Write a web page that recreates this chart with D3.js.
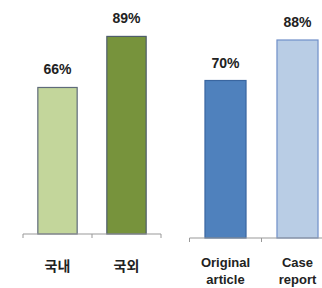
<!DOCTYPE html>
<html>
<head>
<meta charset="utf-8">
<script src="https://cdn.jsdelivr.net/npm/d3@7"></script>
<style>
  body { margin: 0; background: #fff; }
  text { font-family: "Liberation Sans", "Noto Sans CJK KR", sans-serif; font-weight: bold; fill: #222; }
</style>
</head>
<body>
<svg id="chart" width="322" height="288"></svg>
<script>
// left panel: domestic vs. foreign
const leftCats = ["국내", "국외"];
const leftVals = [66, 89];
const leftColors = ["#c3d69b", "#77933c"];
const leftStrokes = ["#5f6b7a", "#4f5d6b"];

// right panel: article type
const rightCats = [["Original", "article"], ["Case", "report"]];
const rightVals = [70, 88];
const rightColors = ["#4f81bd", "#b9cde5"];
const rightStrokes = ["#3a66a0", "#6f8fc8"];

const svg = d3.select("#chart");

function panel(cats, vals, colors, strokes, xRange, yRange) {
    const keys = cats.map((c, i) => i);
    const x = d3.scaleBand().domain(keys).range(xRange).paddingInner(0.43).paddingOuter(0.215);
    const y = d3.scaleLinear().domain([0, 100]).range(yRange);
    const g = svg.append("g");

    g.selectAll("rect")
        .data(vals)
        .join("rect")
        .attr("x", (d, i) => x(i))
        .attr("width", x.bandwidth())
        .attr("y", d => y(d))
        .attr("height", d => y(0) - y(d))
        .attr("fill", (d, i) => colors[i])
        .attr("stroke", (d, i) => strokes[i])
        .attr("stroke-width", 1.2);

    // axis line with tick marks at category boundaries
    g.append("line")
        .attr("x1", xRange[0]).attr("x2", xRange[1])
        .attr("y1", y(0)).attr("y2", y(0))
        .attr("stroke", "#999").attr("stroke-width", 1);
    const bounds = [xRange[0], ...keys.slice(1).map(i => x(i) - x.step() * x.paddingInner() / 2), xRange[1]];
    g.selectAll(".tick")
        .data(bounds)
        .join("line")
        .attr("x1", d => d).attr("x2", d => d)
        .attr("y1", y(0)).attr("y2", y(0) + 4)
        .attr("stroke", "#999");

    // value labels
    g.selectAll(".val")
        .data(vals)
        .join("text")
        .attr("x", (d, i) => x(i) + x.bandwidth() / 2)
        .attr("y", d => y(d) - 13)
        .attr("text-anchor", "middle")
        .attr("font-size", 14)
        .text(d => d + "%");

    // category labels
    cats.forEach((c, i) => {
        const lines = Array.isArray(c) ? c : [c];
        const t = g.append("text")
            .attr("text-anchor", "middle")
            .attr("font-size", lines.length > 1 ? 13 : 14)
            .attr("x", x(i) + x.bandwidth() / 2)
            .attr("y", y(0) + (lines.length > 1 ? 29 : 37));
        lines.forEach((l, j) => {
            t.append("tspan")
                .attr("x", x(i) + x.bandwidth() / 2)
                .attr("dy", j ? 17 : 0)
                .text(l);
        });
    });
}

panel(leftCats, leftVals, leftColors, leftStrokes, [23, 161], [234, 12]);
panel(rightCats, rightVals, rightColors, rightStrokes, [189.5, 333.5], [238, 13]);
</script>
</body>
</html>
